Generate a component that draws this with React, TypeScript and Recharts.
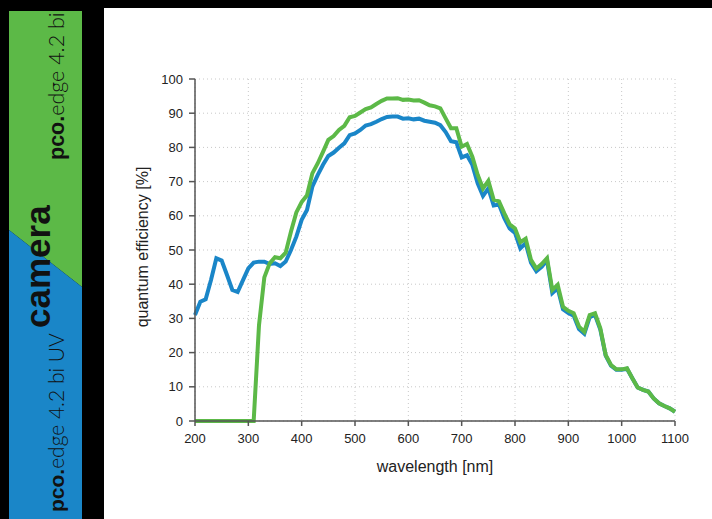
import React from 'react';
import { LineChart, Line, XAxis, YAxis, CartesianGrid } from 'recharts';

const wavelengths = [
  200, 210, 220, 230, 240, 250, 260, 270, 280, 290,
  300, 310, 320, 330, 340, 350, 360, 370, 380, 390,
  400, 410, 420, 430, 440, 450, 460, 470, 480, 490,
  500, 510, 520, 530, 540, 550, 560, 570, 580, 590,
  600, 610, 620, 630, 640, 650, 660, 670, 680, 690,
  700, 710, 720, 730, 740, 750, 760, 770, 780, 790,
  800, 810, 820, 830, 840, 850, 860, 870, 880, 890,
  900, 910, 920, 930, 940, 950, 960, 970, 980, 990,
  1000, 1010, 1020, 1030, 1040, 1050, 1060, 1070, 1080, 1090, 1100,
];

const qeBiUV = [
  31, 34.9, 35.6, 41.2, 47.6, 46.9, 42.7, 38.3, 37.7, 41.2,
  44.6, 46.3, 46.6, 46.6, 45.9, 46.1, 45.3, 46.6, 50, 53.9,
  58.8, 61.7, 68.5, 71.9, 74.9, 77.5, 78.5, 79.9, 81.2, 83.6,
  84.1, 85.1, 86.4, 86.8, 87.5, 88.3, 88.9, 89, 89, 88.4,
  88.5, 88.2, 88.4, 87.8, 87.5, 87.2, 86.5, 84.5, 81.8, 81.5,
  77.1, 77.7, 74.9, 69.5, 65.8, 68, 63, 63.3, 59.3, 56.3,
  55, 50.5, 52, 46.3, 43.8, 45.1, 47, 37.4, 38.8, 32.7,
  31.6, 30.8, 26.9, 25.5, 30.4, 31, 26.7, 19.1, 16.2, 15,
  15, 15.3, 12.5, 9.8, 9.1, 8.6, 6.6, 5.2, 4.4, 3.7, 2.7,
];

const qeBi = [
  0, 0, 0, 0, 0, 0, 0, 0, 0, 0,
  0, 0, 28, 42, 46.1, 47.9, 47.6, 49.2, 55.4, 61,
  64, 66, 72.4, 75.3, 78.7, 82.2, 83.3, 85.1, 86.3, 88.8,
  89.2, 90.2, 91.2, 91.7, 92.7, 93.6, 94.3, 94.3, 94.4, 93.9,
  94, 93.7, 93.8, 93.1, 92.3, 92, 91.4, 88.5, 85.6, 85.6,
  80.2, 81, 77.3, 72, 68, 70.2, 64.7, 64.2, 60.7, 57.5,
  56.3, 52.3, 53.3, 47.1, 44.6, 45.9, 47.6, 38.3, 39.8, 33.4,
  32.2, 31.5, 27.6, 26.1, 31, 31.5, 27.1, 19.3, 16.4, 15.1,
  15.1, 15.4, 12.5, 9.8, 9.1, 8.6, 6.6, 5.2, 4.4, 3.7, 2.7,
];

const xTicks = [200, 300, 400, 500, 600, 700, 800, 900, 1000, 1100];
const yTicks = [0, 10, 20, 30, 40, 50, 60, 70, 80, 90, 100];

const BLUE = '#1a86c8';
const GREEN = '#5cb947';

const data = wavelengths.map((w, i) => ({ w, uv: qeBiUV[i], bi: qeBi[i] }));

const font = '"Liberation Sans", Arial, Helvetica, sans-serif';
const thinFont = 'Lato, "Open Sans", "Liberation Sans", sans-serif';

export default function App() {
  return (
    <div style={{ position: 'fixed', left: 0, top: 0, width: 712, height: 519, background: '#000', overflow: 'hidden' }}>
      <svg width={104} height={519} style={{ position: 'absolute', left: 0, top: 0 }}>
        <polygon points="9,11 82,11 82,287 9,230" fill={GREEN} />
        <polygon points="9,230 82,287 82,519 9,519" fill={BLUE} />
        <text transform="translate(64,160) rotate(-90)" fontSize={21.5} fontFamily={thinFont} fill="#111">
          <tspan fontWeight={900} fontFamily={font}>pco.</tspan>
          <tspan fontWeight={300}>edge 4.2 bi</tspan>
        </text>
        <text transform="translate(50,328) rotate(-90)" fontSize={35} fontFamily={font} fontWeight={700} fill="#111">
          camera
        </text>
        <text transform="translate(64,512) rotate(-90)" fontSize={21} fontFamily={thinFont} fill="#111">
          <tspan fontWeight={900} fontFamily={font}>pco.</tspan>
          <tspan fontWeight={300}>edge 4.2 bi UV</tspan>
        </text>
      </svg>
      <div style={{ position: 'absolute', left: 104, top: 8, width: 608, height: 511, background: '#fff' }}>
        <LineChart
          width={608}
          height={511}
          data={data}
          margin={{ top: 71, right: 37, left: 0, bottom: 68 }}
        >
          <CartesianGrid stroke="#c8c8c8" strokeDasharray="1 3" />
          <XAxis
            dataKey="w"
            type="number"
            domain={[200, 1100]}
            ticks={xTicks}
            height={30}
            tickSize={5}
            tickMargin={8}
            stroke="#555"
            strokeWidth={1.5}
            tick={{ fill: '#222', fontSize: 13, fontFamily: font }}
          />
          <YAxis
            type="number"
            domain={[0, 100]}
            ticks={yTicks}
            width={91}
            tickSize={6}
            tickMargin={6}
            stroke="#555"
            strokeWidth={1.5}
            tick={{ fill: '#222', fontSize: 13, fontFamily: font }}
          />
          <Line type="linear" dataKey="uv" stroke={BLUE} strokeWidth={4} dot={false} isAnimationActive={false} />
          <Line type="linear" dataKey="bi" stroke={GREEN} strokeWidth={4} dot={false} isAnimationActive={false} />
        </LineChart>
        <div style={{ position: 'absolute', left: 331, top: 460 - 8 - 2, width: 0, display: 'flex', justifyContent: 'center' }}>
          <span style={{ whiteSpace: 'nowrap', fontFamily: font, fontSize: 16, color: '#222' }}>wavelength [nm]</span>
        </div>
        <div style={{ position: 'absolute', left: 143 - 104, top: 247 - 8, width: 0, height: 0 }}>
          <span style={{ position: 'absolute', left: 0, top: 0, transform: 'translate(-50%, -50%) rotate(-90deg)', whiteSpace: 'nowrap', fontFamily: font, fontSize: 16, color: '#222' }}>quantum efficiency [%]</span>
        </div>
      </div>
    </div>
  );
}
